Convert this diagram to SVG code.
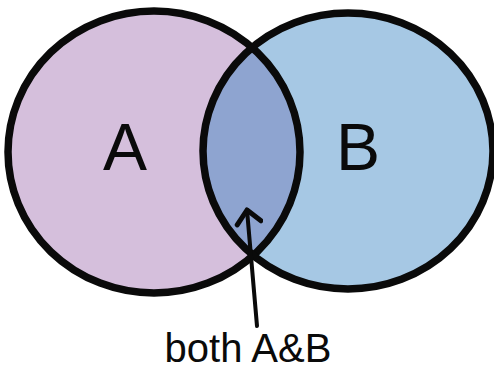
<svg xmlns="http://www.w3.org/2000/svg" width="494" height="369" viewBox="0 0 494 369">
  <style>
    .outline { fill: none; stroke: #0a0a0a; stroke-width: 7.5; }
    .label { font-family: "Liberation Sans", Arial, sans-serif; fill: #0a0a0a; }
    .big { font-size: 66px; }
    .small { font-size: 40px; }
    .conn { fill: none; stroke: #0a0a0a; stroke-width: 4; stroke-linecap: round; }
  </style>
  <defs>
    <clipPath id="clipA">
      <ellipse cx="154" cy="152" rx="146" ry="141"/>
    </clipPath>
    <marker id="head" viewBox="0 0 30 30" refX="22" refY="15" markerWidth="30" markerHeight="30" markerUnits="userSpaceOnUse" orient="auto">
      <path d="M8,4 L22,15 L10,28" fill="none" stroke="#0a0a0a" stroke-width="5" stroke-linecap="round" stroke-linejoin="round"/>
    </marker>
  </defs>
  <rect width="494" height="369" fill="#ffffff"/>
  <g id="setA">
    <ellipse cx="154" cy="152" rx="146" ry="141" fill="#d5bfdc"/>
  </g>
  <g id="setB">
    <ellipse cx="348" cy="151" rx="145" ry="138" fill="#a6c8e4"/>
  </g>
  <g id="intersection">
    <ellipse cx="348" cy="151" rx="145" ry="138" fill="#8ea4d0" clip-path="url(#clipA)"/>
  </g>
  <g id="outlines">
    <ellipse class="outline" cx="154" cy="152" rx="146" ry="141"/>
    <ellipse class="outline" cx="348" cy="151" rx="145" ry="138"/>
  </g>
  <g id="labelA"><text class="label big" x="125" y="170" text-anchor="middle">A</text></g>
  <g id="labelB"><text class="label big" x="358" y="170" text-anchor="middle">B</text></g>
  <g id="connectors">
    <path class="conn" d="M257,326 L247,210" marker-end="url(#head)"/>
  </g>
  <g id="labelBoth"><text class="label small" x="248" y="362" text-anchor="middle">both A&amp;B</text></g>
</svg>
